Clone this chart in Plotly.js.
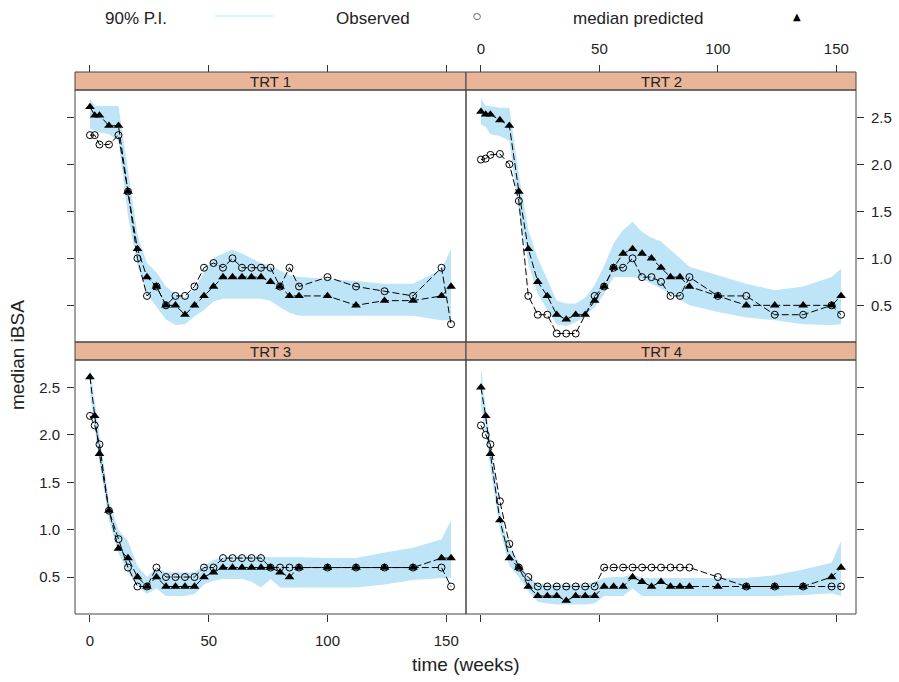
<!DOCTYPE html>
<html><head><meta charset="utf-8">
<script src="https://cdn.plot.ly/plotly-3.0.1.min.js"></script>
<style>html,body{margin:0;padding:0;background:#fff}</style>
</head><body><div id="chart" style="width:899px;height:682px"></div>
<script>
// ---- data ----
const weeks = [0,2,4,8,12,16,20,24,28,32,36,40,44,48,52,56,60,64,68,72,76,80,84,88,100,112,124,136,148,152];
const panelNames = ["TRT 1","TRT 2","TRT 3","TRT 4"];
const xTicks = [0,50,100,150];
const yTicks = [0.5,1.0,1.5,2.0,2.5];

const trt1Pred = [2.61,2.52,2.52,2.41,2.41,1.71,1.10,0.80,0.70,0.50,0.50,0.40,0.50,0.60,0.70,0.80,0.80,0.80,0.80,0.80,0.75,0.70,0.60,0.60,0.60,0.50,0.55,0.55,0.60,0.70];
const trt1Obs  = [2.31,2.31,2.21,2.21,2.31,1.71,1.00,0.60,0.70,0.50,0.60,0.60,0.70,0.90,0.95,0.90,1.00,0.90,0.90,0.90,0.90,0.70,0.90,0.70,0.80,0.70,0.65,0.60,0.90,0.30];
const trt1Lo   = [2.38,2.36,2.34,2.32,2.25,1.45,0.92,0.62,0.48,0.35,0.29,0.30,0.38,0.45,0.54,0.57,0.57,0.57,0.57,0.57,0.55,0.48,0.42,0.39,0.39,0.39,0.39,0.39,0.34,0.34];
const trt1Hi   = [2.70,2.62,2.62,2.62,2.62,1.95,1.25,0.95,0.85,0.70,0.62,0.58,0.68,0.85,1.00,1.05,1.09,1.05,1.00,0.95,0.92,0.87,0.82,0.80,0.78,0.76,0.73,0.73,0.88,1.10];

const trt2Pred = [2.56,2.53,2.53,2.47,2.41,1.71,1.10,0.75,0.60,0.40,0.35,0.40,0.40,0.55,0.70,0.90,1.05,1.10,1.05,1.00,0.90,0.80,0.80,0.70,0.60,0.50,0.50,0.50,0.50,0.60];
const trt2Obs  = [2.05,2.06,2.10,2.11,2.00,1.61,0.60,0.40,0.40,0.20,0.20,0.20,null,0.60,0.70,0.90,0.90,1.00,0.80,0.80,0.75,0.60,0.60,0.80,0.60,0.60,0.40,0.40,0.50,0.40];
const trt2Lo   = [2.42,2.40,2.32,2.30,2.25,1.50,0.95,0.62,0.45,0.30,0.28,0.32,0.38,0.48,0.62,0.80,0.80,0.80,0.78,0.73,0.68,0.62,0.56,0.50,0.43,0.37,0.34,0.30,0.29,0.30];
const trt2Hi   = [2.70,2.62,2.62,2.60,2.60,1.90,1.30,1.00,0.78,0.55,0.52,0.52,0.58,0.72,0.92,1.16,1.30,1.39,1.28,1.22,1.18,1.09,1.00,0.91,0.82,0.73,0.66,0.70,0.80,0.89];

const trt3Pred = [2.61,2.20,1.80,1.20,0.80,0.70,0.50,0.40,0.50,0.40,0.40,0.40,0.40,0.50,0.55,0.60,0.60,0.60,0.60,0.60,0.60,0.55,0.50,0.60,0.60,0.60,0.60,0.60,0.70,0.70];
const trt3Obs  = [2.20,2.10,1.90,1.20,0.90,0.60,0.40,0.40,0.60,0.50,0.50,0.50,0.50,0.60,0.60,0.70,0.70,0.70,0.70,0.70,0.60,0.60,0.60,0.60,0.60,0.60,0.60,0.60,0.60,0.40];
const trt3Lo   = [2.45,2.05,1.70,1.10,0.75,0.55,0.40,0.32,0.38,0.30,0.30,0.30,0.32,0.42,0.46,0.48,0.48,0.48,0.45,0.39,0.48,0.39,0.39,0.39,0.39,0.39,0.42,0.47,0.49,0.49];
const trt3Hi   = [2.72,2.35,2.00,1.30,1.00,0.88,0.62,0.50,0.60,0.55,0.55,0.55,0.55,0.62,0.68,0.71,0.72,0.72,0.72,0.72,0.71,0.71,0.71,0.71,0.70,0.70,0.76,0.81,0.90,1.10];

const trt4Pred = [2.50,2.20,1.80,1.10,0.70,0.60,0.40,0.30,0.30,0.30,0.25,0.30,0.30,0.30,0.40,0.40,0.40,0.50,0.45,0.40,0.45,0.40,0.40,0.40,0.40,0.40,0.40,0.40,0.50,0.60];
const trt4Obs  = [2.10,2.00,1.90,1.30,0.85,0.60,0.50,0.40,0.40,0.40,0.40,0.40,0.40,0.40,0.60,0.60,0.60,0.60,0.60,0.60,0.60,0.60,0.60,0.60,0.50,0.40,0.40,0.40,0.40,0.40];
const trt4Lo   = [2.30,2.00,1.65,1.00,0.62,0.50,0.35,0.24,0.22,0.21,0.21,0.21,0.21,0.22,0.30,0.30,0.30,0.38,0.30,0.30,0.30,0.30,0.30,0.30,0.30,0.30,0.30,0.31,0.33,0.30];
const trt4Hi   = [2.72,2.30,1.90,1.20,0.80,0.66,0.50,0.43,0.42,0.42,0.42,0.42,0.42,0.45,0.49,0.50,0.50,0.53,0.49,0.49,0.49,0.49,0.49,0.49,0.49,0.49,0.52,0.58,0.65,0.88];

// ---- styling ----
const BAND = "#bde5f7";
const STRIP = "#e9b598";
const FRAME = "#444444";
const FONT = "Liberation Sans, Arial, sans-serif";
const W = 899, H = 682, L = 75, R = 43, T = 72, B = 68;
const pw = W - L - R, ph = H - T - B;
const px = v => (v - L) / pw;
const py = v => (H - B - v) / ph;

const xSplit = px(466);
const topDom = [py(342), py(90)];
const botDom = [0, py(360)];
const topStrip = [py(90), 1];
const botStrip = [py(360), py(342)];

const panels = [
  {name: panelNames[0], pred: trt1Pred, obs: trt1Obs, lo: trt1Lo, hi: trt1Hi, xa: "x3", ya: "y3"},
  {name: panelNames[1], pred: trt2Pred, obs: trt2Obs, lo: trt2Lo, hi: trt2Hi, xa: "x4", ya: "y4"},
  {name: panelNames[2], pred: trt3Pred, obs: trt3Obs, lo: trt3Lo, hi: trt3Hi, xa: "x",  ya: "y"},
  {name: panelNames[3], pred: trt4Pred, obs: trt4Obs, lo: trt4Lo, hi: trt4Hi, xa: "x2", ya: "y2"}
];

const traces = [];
panels.forEach(p => {
  traces.push({
    x: weeks.concat(weeks.slice().reverse()),
    y: p.lo.concat(p.hi.slice().reverse()),
    xaxis: p.xa, yaxis: p.ya, type: "scatter", mode: "lines",
    fill: "toself", fillcolor: BAND, line: {width: 0, color: BAND},
    hoverinfo: "skip", name: "90% P.I."
  });
  traces.push({
    x: weeks, y: p.obs, xaxis: p.xa, yaxis: p.ya, type: "scatter",
    mode: "lines+markers", connectgaps: true, name: "Observed",
    line: {color: "#000", width: 1, dash: "7px,3px"},
    marker: {symbol: "circle-open", size: 7, color: "#000", line: {width: 1, color: "#000"}}
  });
  traces.push({
    x: weeks, y: p.pred, xaxis: p.xa, yaxis: p.ya, type: "scatter",
    mode: "lines+markers", name: "median predicted",
    line: {color: "#000", width: 1, dash: "7px,3px"},
    marker: {symbol: "triangle-up", size: 8.5, color: "#000"}
  });
});

const tickFont = {family: FONT, size: 15, color: "#222"};
const xRange = [-6.3, 158.3];
const yRange = [0.11, 2.79];
function xax(domain, extra) {
  return Object.assign({
    domain: domain, range: xRange, tickvals: xTicks, ticks: "outside", ticklen: 7,
    tickcolor: "#333", tickwidth: 1, showline: false, showgrid: false, zeroline: false,
    tickfont: tickFont, fixedrange: true
  }, extra);
}
function yax(domain, extra) {
  return Object.assign({
    domain: domain, range: yRange, tickvals: yTicks, tickformat: ".1f", ticks: "outside", ticklen: 7,
    tickcolor: "#333", tickwidth: 1, showline: false, showgrid: false, zeroline: false,
    tickfont: tickFont, fixedrange: true
  }, extra);
}

const shapes = [];
const annotations = [];
panels.forEach((p, i) => {
  const xd = p.xa === "x" ? "x domain" : p.xa + " domain";
  const yd = p.ya === "y" ? "y domain" : p.ya + " domain";
  shapes.push({type: "rect", xref: xd, yref: yd, x0: 0, x1: 1, y0: 0, y1: 1,
    line: {color: FRAME, width: 1}, fillcolor: "rgba(0,0,0,0)"});
  const left = (i % 2 === 0);
  const top = (i < 2);
  const sx = left ? [0, xSplit] : [xSplit, 1];
  const sy = top ? topStrip : botStrip;
  shapes.push({type: "rect", xref: "paper", yref: "paper", x0: sx[0], x1: sx[1], y0: sy[0], y1: sy[1],
    line: {color: FRAME, width: 1}, fillcolor: STRIP, layer: "below"});
  annotations.push({xref: "paper", yref: "paper", x: (sx[0] + sx[1]) / 2, y: (sy[0] + sy[1]) / 2,
    text: p.name, showarrow: false, xanchor: "center", yanchor: "middle",
    font: {family: FONT, size: 15, color: "#222"}});
});

// legend (key) across the top
const keyFont = {family: FONT, size: 17, color: "#222"};
annotations.push({xref: "paper", yref: "paper", x: px(136), y: py(18), text: "90% P.I.", showarrow: false, xanchor: "center", yanchor: "middle", font: keyFont});
shapes.push({type: "line", xref: "paper", yref: "paper", x0: px(215), x1: px(273), y0: py(16), y1: py(16), line: {color: "#cdeefb", width: 1.5}});
annotations.push({xref: "paper", yref: "paper", x: px(373), y: py(18), text: "Observed", showarrow: false, xanchor: "center", yanchor: "middle", font: keyFont});
annotations.push({xref: "paper", yref: "paper", x: px(477), y: py(16), text: "○", showarrow: false, xanchor: "center", yanchor: "middle", font: {family: "DejaVu Sans", size: 9, color: "#000"}});
annotations.push({xref: "paper", yref: "paper", x: px(638), y: py(18), text: "median predicted", showarrow: false, xanchor: "center", yanchor: "middle", font: keyFont});
annotations.push({xref: "paper", yref: "paper", x: px(797), y: py(16), text: "▲", showarrow: false, xanchor: "center", yanchor: "middle", font: {family: "DejaVu Sans", size: 10, color: "#000"}});

// axis titles
annotations.push({xref: "paper", yref: "paper", x: px(466), y: py(664), text: "time (weeks)", showarrow: false, xanchor: "center", yanchor: "middle", font: {family: FONT, size: 19, color: "#222"}});
annotations.push({xref: "paper", yref: "paper", x: px(18), y: py(355), text: "median iBSA", textangle: -90, showarrow: false, xanchor: "center", yanchor: "middle", font: {family: FONT, size: 19, color: "#222"}});

const layout = {
  width: W, height: H,
  margin: {l: L, r: R, t: T, b: B, pad: 0},
  paper_bgcolor: "#fff", plot_bgcolor: "#fff",
  showlegend: false,
  xaxis:  xax([0, xSplit], {anchor: "y", side: "bottom", showticklabels: true, ticklabelstandoff: 6}),
  xaxis2: xax([xSplit, 1], {anchor: "y2", side: "bottom", showticklabels: false}),
  xaxis3: xax([0, xSplit], {anchor: "free", position: 1, side: "top", showticklabels: false}),
  xaxis4: xax([xSplit, 1], {anchor: "free", position: 1, side: "top", showticklabels: true, ticklabelstandoff: 5}),
  yaxis:  yax(botDom, {anchor: "x", side: "left", showticklabels: true, ticklabelstandoff: 4}),
  yaxis2: yax(botDom, {anchor: "x2", side: "right", showticklabels: false}),
  yaxis3: yax(topDom, {anchor: "x3", side: "left", showticklabels: false}),
  yaxis4: yax(topDom, {anchor: "x4", side: "right", showticklabels: true, ticklabelstandoff: 4}),
  shapes: shapes,
  annotations: annotations
};

Plotly.newPlot("chart", traces, layout, {displayModeBar: false, staticPlot: true});
</script>
</body></html>
